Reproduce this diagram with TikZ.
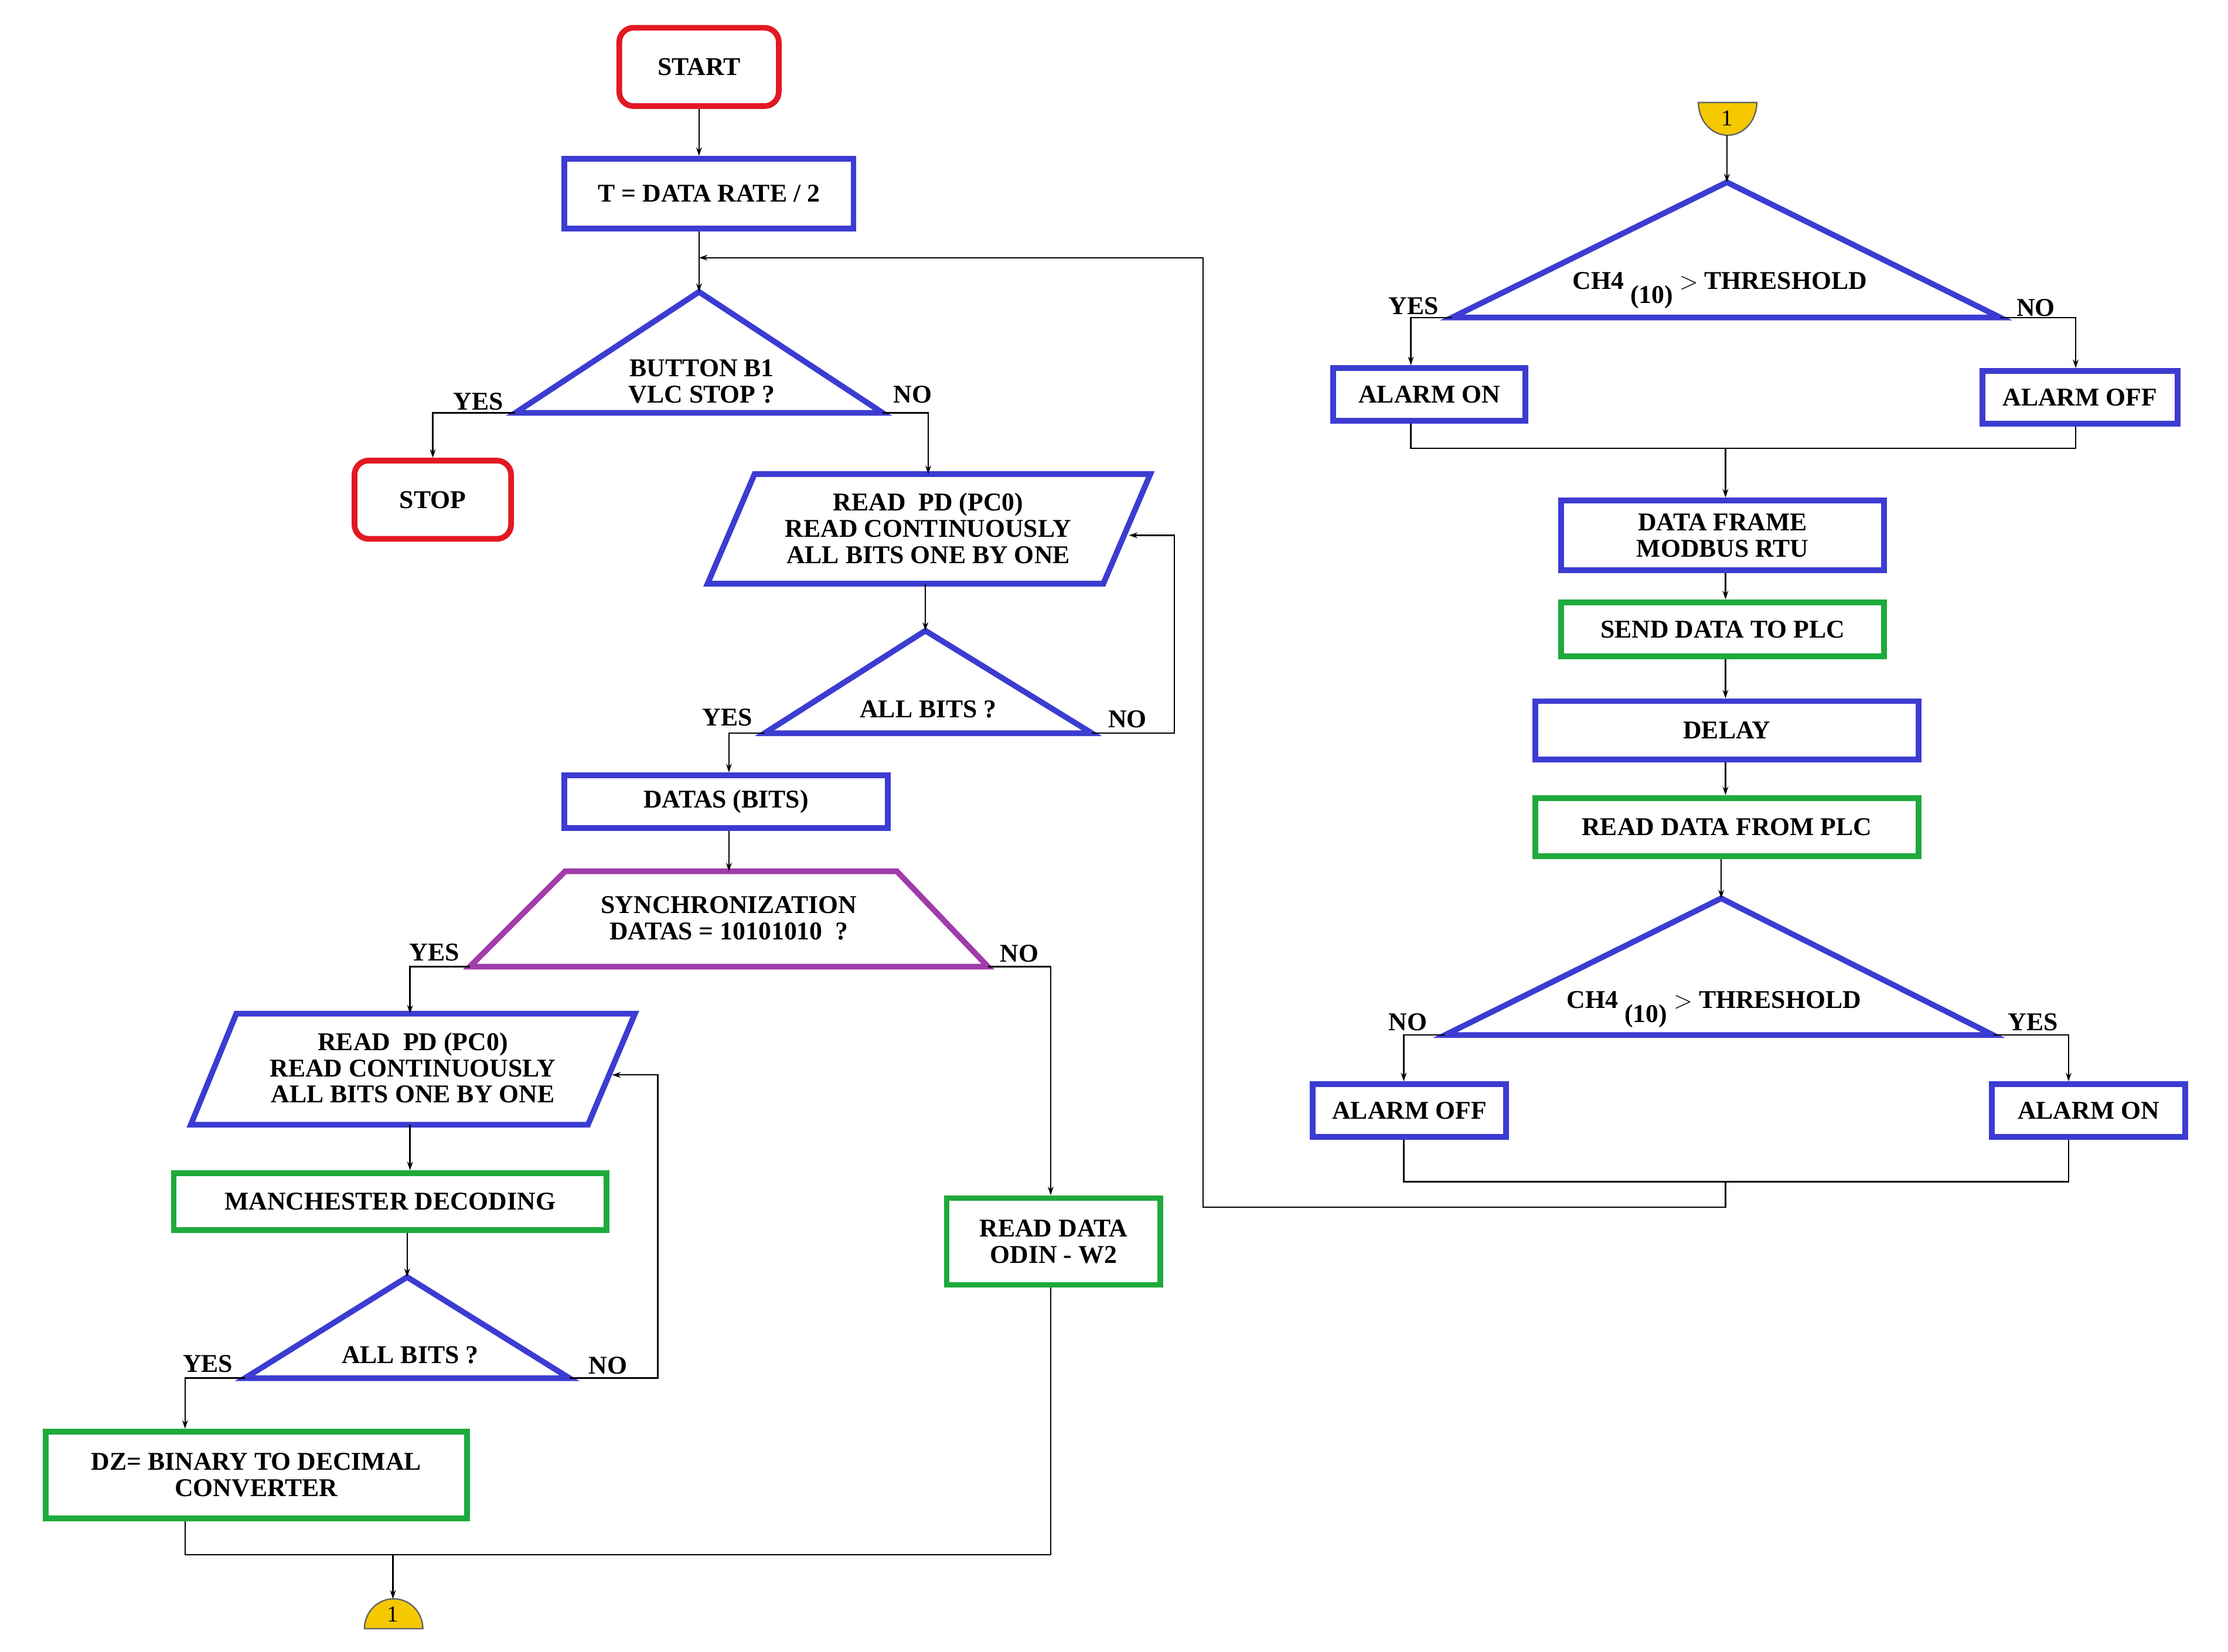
\documentclass[tikz,border=0pt]{standalone}
\usepackage{fontspec}
\setmainfont{Liberation Serif}
\usetikzlibrary{arrows.meta}
\definecolor{bl}{RGB}{60,60,210}
\definecolor{gr}{RGB}{30,170,60}
\definecolor{rd}{RGB}{225,25,35}
\definecolor{pu}{RGB}{160,60,170}
\definecolor{yl}{RGB}{245,200,0}
\begin{document}
\begin{tikzpicture}[x=1pt,y=-1pt,
 txt/.style={font=\fontsize{18}{18.5}\selectfont\bfseries,align=center,inner sep=0pt},
 box/.style={txt,draw=#1,line width=4pt,rectangle},
 rbox/.style={txt,draw=rd,line width=4pt,rounded corners=10pt},
 shp/.style={draw=#1,line width=4pt,line join=miter},
 ln/.style={line width=1pt},
 ar/.style={ln,-{Stealth[length=6pt,width=4pt]}},
 lab/.style={font=\fontsize{18}{18}\selectfont\bfseries,inner sep=0pt}]
\useasboundingbox (0,0) rectangle (1565,1160);
% left column
\node[rbox,minimum width=112,minimum height=55] (start) at (491,47) {START};
\node[box=bl,minimum width=203,minimum height=49] (t) at (498,136) {T = DATA RATE / 2};
\coordinate (j1) at (491,181);
\draw[shp=bl] (491,205) coordinate (d1a) -- (620,290) coordinate (d1r) -- (362,290) coordinate (d1l) -- cycle;
\node[txt] (d1) at (493,268) {BUTTON B1\\VLC STOP ?};
\node[lab] at (336,282) {YES};
\node[lab] at (641,277) {NO};
\node[rbox,minimum width=110,minimum height=55] (stop) at (304,351) {STOP};
\draw[shp=bl] (530,333) -- (808,333) -- (775,410) -- (497,410) -- cycle;
\node[txt] (p1) at (652,371) {READ \ PD (PC0)\\READ CONTINUOUSLY\\ALL BITS ONE BY ONE};
\coordinate (p1t) at (652,333); \coordinate (p1b) at (650,410); \coordinate (p1r) at (793,376);
\draw[shp=bl] (650,443) coordinate (d2a) -- (767,515) coordinate (d2r) -- (537,515) coordinate (d2l) -- cycle;
\node[txt] (d2) at (652,498) {ALL BITS ?};
\node[lab] at (511,504) {YES};
\node[lab] at (792,505) {NO};
\node[box=bl,minimum width=227,minimum height=37] (datas) at (510,563) {DATAS (BITS)};
\draw[shp=pu] (397,612) coordinate (tr1) -- (630,612) -- (694,679) coordinate (trr) -- (330,679) coordinate (trl) -- cycle;
\node[txt] (sync) at (512,645) {SYNCHRONIZATION\\DATAS = 10101010 \ ?};
\coordinate (trt) at (512,612);
\node[lab] at (305,669) {YES};
\node[lab] at (716,670) {NO};
\node[box=gr,minimum width=150,minimum height=61] (odin) at (740,872) {READ DATA\\ODIN - W2};
\draw[shp=bl] (166,712) -- (446,712) -- (413,790) -- (134,790) -- cycle;
\node[txt] (p2) at (290,750) {READ \ PD (PC0)\\READ CONTINUOUSLY\\ALL BITS ONE BY ONE};
\coordinate (p2t) at (288,712); \coordinate (p2b) at (288,790); \coordinate (p2r) at (430,755);
\node[box=gr,minimum width=304,minimum height=40] (man) at (274,844) {MANCHESTER DECODING};
\draw[shp=bl] (286,897) coordinate (d3a) -- (400,968) coordinate (d3r) -- (172,968) coordinate (d3l) -- cycle;
\node[txt] (d3) at (288,952) {ALL BITS ?};
\node[lab] at (146,958) {YES};
\node[lab] at (427,959) {NO};
\node[box=gr,minimum width=296,minimum height=61] (dz) at (180,1036) {DZ= BINARY TO DECIMAL\\CONVERTER};
\coordinate (j2) at (276,1092);
\filldraw[fill=yl,draw=black!60,line width=1pt] (256,1144) arc[start angle=180,end angle=0,x radius=20.5,y radius=-21] -- cycle;
\node[txt,font=\fontsize{16}{16}\selectfont] (c1) at (276,1134) {1};
\coordinate (c1t) at (276,1123);
% right column
\filldraw[fill=yl,draw=black!60,line width=1pt] (1193,72) arc[start angle=180,end angle=360,x radius=20.5,y radius=-23] -- cycle;
\node[txt,font=\fontsize{16}{16}\selectfont] (c2) at (1213,83) {1};
\coordinate (c2b) at (1213,95);
\draw[shp=bl] (1213,128) coordinate (d4a) -- (1405,223) coordinate (d4r) -- (1020,223) coordinate (d4l) -- cycle;
\node[txt] (d4) at (1208,204) {CH4 \raisebox{-1.2ex}{(10)} $>$ THRESHOLD};
\node[lab] at (993,215) {YES};
\node[lab] at (1430,216) {NO};
\node[box=bl,minimum width=135,minimum height=37] (aon1) at (1004,277) {ALARM ON};
\node[box=bl,minimum width=137,minimum height=37] (aoff1) at (1461,279) {ALARM OFF};
\coordinate (j3) at (1212,315);
\node[box=bl,minimum width=227,minimum height=49] (frame) at (1210,376) {DATA FRAME\\MODBUS RTU};
\node[box=gr,minimum width=227,minimum height=38] (send) at (1210,442) {SEND DATA TO PLC};
\node[box=bl,minimum width=269,minimum height=41] (delay) at (1213,513) {DELAY};
\node[box=gr,minimum width=269,minimum height=41] (readplc) at (1213,581) {READ DATA FROM PLC};
\draw[shp=bl] (1209,631) coordinate (d5a) -- (1400,727) coordinate (d5r) -- (1015,727) coordinate (d5l) -- cycle;
\node[txt] (d5) at (1204,709) {CH4 \raisebox{-1.2ex}{(10)} $>$ THRESHOLD};
\node[lab] at (989,718) {NO};
\node[lab] at (1428,718) {YES};
\node[box=bl,minimum width=136,minimum height=37] (aoff2) at (990,780) {ALARM OFF};
\node[box=bl,minimum width=136,minimum height=37] (aon2) at (1467,780) {ALARM ON};
\coordinate (j4) at (1212,830);
% connectors
\draw[ar] (start) -- (start|-t.north);
\draw[ln] (t.south-|j1) -- (j1);
\draw[ar] (j1) -- (d1a);
\draw[ar] (d1l) -| (stop.north);
\draw[ar] (d1r) -| (p1t);
\draw[ar] (p1b) -- (d2a);
\draw[ar] (d2r) -- (825,515) |- (p1r);
\draw[ar] (d2l) -| (datas.north-|512,0);
\draw[ar] (datas.south-|512,0) -- (trt);
\draw[ar] (trl) -| (p2t);
\draw[ar] (trr) -- (738,679) -- (odin.north-|738,0);
\draw[ar] (p2b) -- (p2b|-man.north);
\draw[ar] (man.south-|d3a) -- (d3a);
\draw[ar] (d3r) -- (462,968) |- (p2r);
\draw[ar] (d3l) -| (dz.north-|130,0);
\draw[ln] (dz.south-|130,0) |- (j2);
\draw[ln] (odin.south-|738,0) |- (j2);
\draw[ar] (j2) -- (c1t);
\draw[ar] (c2b) -- (d4a);
\draw[ar] (d4l) -| (aon1.north-|991,0);
\draw[ar] (d4r) -| (aoff1.north-|1458,0);
\draw[ln] (aon1.south-|991,0) |- (j3);
\draw[ln] (aoff1.south-|1458,0) |- (j3);
\draw[ar] (j3) -- (frame.north-|j3);
\draw[ar] (frame.south-|j3) -- (send.north-|j3);
\draw[ar] (send.south-|j3) -- (delay.north-|j3);
\draw[ar] (delay.south-|j3) -- (readplc.north-|j3);
\draw[ar] (readplc.south-|d5a) -- (d5a);
\draw[ar] (d5l) -| (aoff2.north-|986,0);
\draw[ar] (d5r) -| (aon2.north-|1453,0);
\draw[ln] (aoff2.south-|986,0) |- (j4);
\draw[ln] (aon2.south-|1453,0) |- (j4);
\draw[ar] (j4) -- (1212,848) -- (845,848) -- (845,181) -- (j1);
\end{tikzpicture}
\end{document}
